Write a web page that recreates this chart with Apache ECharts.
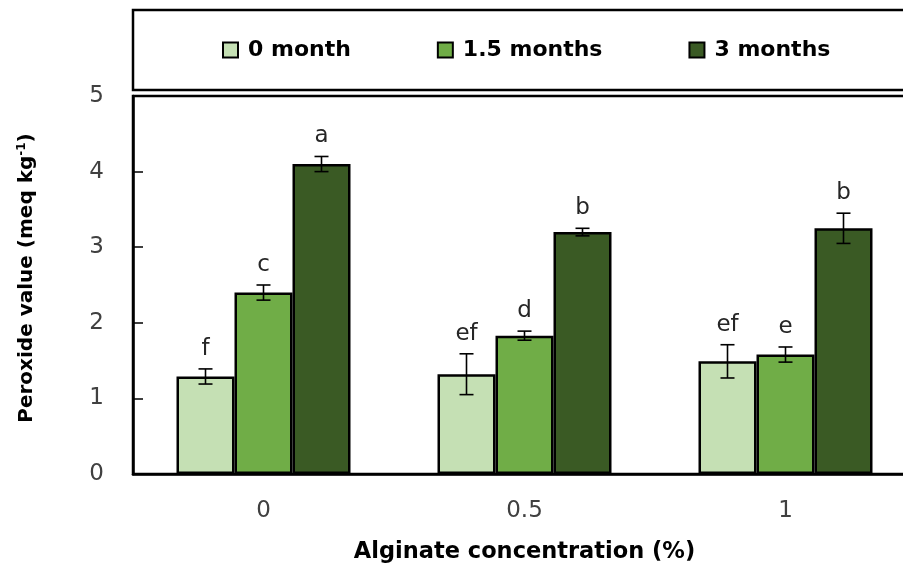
<!DOCTYPE html>
<html>
<head>
<meta charset="utf-8">
<script src="https://cdn.jsdelivr.net/npm/echarts@6/dist/echarts.min.js"></script>
<style>
html,body{margin:0;padding:0;background:#fff;}
#chart{width:903px;height:567px;}
</style>
</head>
<body>
<div id="chart"></div>
<script>
// ---- data ----
const categories = ['0', '0.5', '1'];
const seriesNames = ['0 month', '1.5 months', '3 months'];
const month0 = [1.29, 1.32, 1.49];
const month15 = [2.40, 1.83, 1.58];
const month3 = [4.10, 3.20, 3.25];
const err0 = [0.10, 0.27, 0.22];
const err15 = [0.10, 0.06, 0.10];
const err3 = [0.10, 0.05, 0.20];
const letters0 = ['f', 'ef', 'ef'];
const letters15 = ['c', 'd', 'e'];
const letters3 = ['a', 'b', 'b'];
const yTicks = [0, 1, 2, 3, 4, 5];

const colors = ['#c5e0b4', '#70ad47', '#3a5a24'];
const FONT = 'DejaVu Sans';
const CAT_GAP = 1 / 3;

const values = [month0, month15, month3];
const errs = [err0, err15, err3];
const letters = [letters0, letters15, letters3];

function barSeries(k) {
  return {
    type: 'bar',
    name: seriesNames[k],
    data: values[k],
    barGap: '0%',
    barCategoryGap: (CAT_GAP * 100) + '%',
    itemStyle: { color: colors[k], borderColor: '#000', borderWidth: 2.5 },
    z: 2
  };
}

function errSeries(k) {
  return {
    type: 'custom',
    z: 10,
    silent: true,
    data: values[k].map((v, i) => [i, v, errs[k][i]]),
    renderItem: function (params, api) {
      const i = api.value(0), v = api.value(1), e = api.value(2);
      const catW = api.size([1, 0])[0];
      const barW = catW * (1 - CAT_GAP) / 3;
      const cx = api.coord([i, v])[0] + (k - 1) * barW;
      const top = api.coord([i, v + e])[1];
      const bot = api.coord([i, v - e])[1];
      const cap = 7;
      const st = { stroke: '#000', lineWidth: 1.6 };
      return {
        type: 'group',
        children: [
          { type: 'line', shape: { x1: cx, y1: top, x2: cx, y2: bot }, style: st },
          { type: 'line', shape: { x1: cx - cap, y1: top, x2: cx + cap, y2: top }, style: st },
          { type: 'line', shape: { x1: cx - cap, y1: bot, x2: cx + cap, y2: bot }, style: st },
          {
            type: 'text',
            style: {
              text: letters[k][i], x: cx, y: top - 20,
              textAlign: 'center', textVerticalAlign: 'middle',
              font: '23px "' + FONT + '"', fill: '#262626'
            }
          }
        ]
      };
    }
  };
}

const chart = echarts.init(document.getElementById('chart'), null, { renderer: 'canvas' });
chart.setOption({
  animation: false,
  backgroundColor: '#fff',
  legend: {
    data: seriesNames,
    left: 133, top: 10,
    width: 900,
    orient: 'horizontal',
    icon: 'rect',
    itemWidth: 15, itemHeight: 15,
    itemGap: 86,
    padding: [29, 110, 29, 89],
    borderColor: '#000', borderWidth: 2.5,
    textStyle: { fontFamily: FONT, fontSize: 22, fontWeight: 'bold', color: '#000', padding: [0, 0, 0, 5] }
  },
  grid: {
    left: 133, top: 96, width: 783, height: 378,
    outerBoundsMode: 'none',
    containLabel: false,
    show: true, borderColor: '#000', borderWidth: 2.5, backgroundColor: 'transparent'
  },
  xAxis: {
    type: 'category',
    data: categories,
    name: 'Alginate concentration (%)',
    nameLocation: 'middle',
    nameGap: 67,
    nameTextStyle: { fontFamily: FONT, fontSize: 22.5, fontWeight: 'bold', color: '#000' },
    axisLine: { show: true, lineStyle: { color: '#000', width: 2.5 } },
    axisTick: { show: false },
    axisLabel: { fontFamily: FONT, fontSize: 23, color: '#404040', margin: 26 }
  },
  yAxis: {
    type: 'value',
    min: yTicks[0], max: yTicks[yTicks.length - 1], interval: 1,
    name: '{t|Peroxide value (meq kg}{s|-1}{t|)}',
    nameLocation: 'middle',
    nameGap: 96,
    nameRotate: 90,
    nameTextStyle: {
      padding: [0, 0, 0, 14],
      rich: {
        t: { fontFamily: FONT, fontSize: 20, fontWeight: 'bold', color: '#000' },
        s: { fontFamily: FONT, fontSize: 12, fontWeight: 'bold', color: '#000', padding: [0, 0, 9, 0] }
      }
    },
    axisLine: { show: true, lineStyle: { color: '#000', width: 2.5 } },
    axisTick: { show: true, inside: true, length: 10, lineStyle: { color: '#000', width: 1.5 } },
    splitLine: { show: false },
    axisLabel: { fontFamily: FONT, fontSize: 23, color: '#404040', margin: 29 }
  },
  series: [barSeries(0), barSeries(1), barSeries(2), errSeries(0), errSeries(1), errSeries(2)]
});
</script>
</body>
</html>
